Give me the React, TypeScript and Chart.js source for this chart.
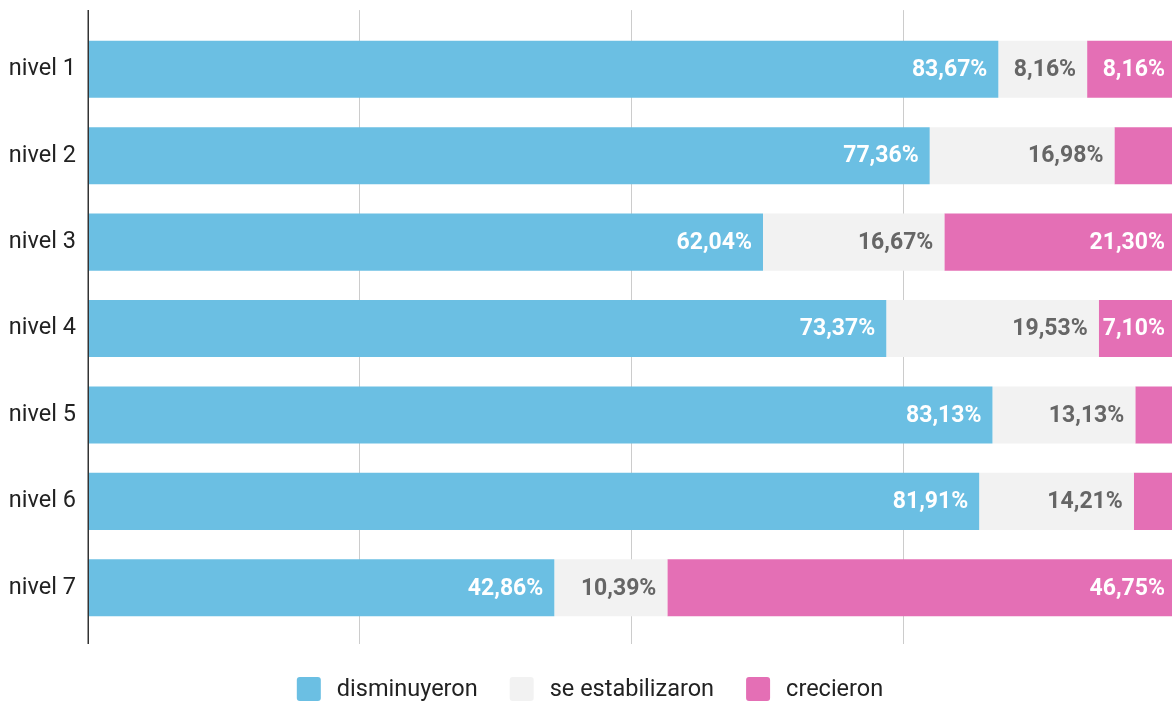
import React, { useEffect, useRef } from "react";
import { Chart, registerables } from "chart.js";

Chart.register(...registerables);

const categories = ["nivel 1", "nivel 2", "nivel 3", "nivel 4", "nivel 5", "nivel 6", "nivel 7"];
const seriesNames = ["disminuyeron", "se estabilizaron", "crecieron"];
const disminuyeron = [83.67, 77.36, 62.04, 73.37, 83.13, 81.91, 42.86];
const seEstabilizaron = [8.16, 16.98, 16.67, 19.53, 13.13, 14.21, 10.39];
const crecieron = [8.16, 5.66, 21.3, 7.1, 3.74, 3.88, 46.75];
const gridTicks = [25, 50, 75];

const COLORS = ["#6BBFE3", "#F2F2F2", "#E46FB5"];
const LABEL_COLORS = ["#FFFFFF", "#666666", "#FFFFFF"];
const FONT = "Roboto";

const fmt = (v: number) => v.toFixed(2).replace(".", ",") + "%";

const decorPlugin = {
  id: "decor",
  beforeDatasetsDraw(chart: any) {
    const { ctx, chartArea, scales } = chart;
    const top = chartArea.top - 16;
    const bottom = chartArea.bottom + 13;
    ctx.save();
    ctx.strokeStyle = "#CCCCCC";
    ctx.lineWidth = 1;
    gridTicks.forEach((t) => {
      const x = Math.round(scales.x.getPixelForValue(t)) - 0.5;
      ctx.beginPath();
      ctx.moveTo(x, top);
      ctx.lineTo(x, bottom);
      ctx.stroke();
    });
    ctx.restore();
  },
  afterDatasetsDraw(chart: any) {
    const { ctx, chartArea } = chart;
    ctx.save();
    // axis line
    ctx.strokeStyle = "#333333";
    ctx.lineWidth = 1.5;
    ctx.beginPath();
    ctx.moveTo(chartArea.left + 0.25, chartArea.top - 16);
    ctx.lineTo(chartArea.left + 0.25, chartArea.bottom + 13);
    ctx.stroke();

    // data labels
    ctx.font = `bold 23px ${FONT}`;
    ctx.textAlign = "right";
    ctx.textBaseline = "middle";
    chart.data.datasets.forEach((ds: any, di: number) => {
      const meta = chart.getDatasetMeta(di);
      meta.data.forEach((bar: any, i: number) => {
        const v = ds.data[i];
        const text = fmt(v);
        const w = Math.abs(bar.x - bar.base);
        const tw = ctx.measureText(text).width;
        if (tw + 6 > w) return;
        ctx.fillStyle = LABEL_COLORS[di];
        ctx.fillText(text, Math.min(bar.x, chartArea.right) - 11, bar.y + 1);
      });
    });

    // legend
    ctx.font = `23.5px ${FONT}`;
    ctx.textAlign = "left";
    ctx.textBaseline = "middle";
    const box = 24;
    const gapBox = 16;
    const gapItem = 32;
    const widths = seriesNames.map((n) => box + gapBox + ctx.measureText(n).width);
    const total = widths.reduce((a, b) => a + b, 0) + gapItem * (seriesNames.length - 1);
    let x = 1172 / 2 - total / 2 + 4;
    const cy = 689;
    seriesNames.forEach((n, i) => {
      ctx.fillStyle = COLORS[i];
      ctx.beginPath();
      (ctx as any).roundRect(x, cy - box / 2, box, box, 3);
      ctx.fill();
      ctx.fillStyle = "#222222";
      ctx.fillText(n, x + box + gapBox, cy + 1);
      x += widths[i] + gapItem;
    });
    ctx.restore();
  },
};

export default function App() {
  const ref = useRef<HTMLCanvasElement>(null);
  useEffect(() => {
    if (!ref.current) return;
    const chart = new Chart(ref.current, {
      type: "bar",
      data: {
        labels: categories,
        datasets: [disminuyeron, seEstabilizaron, crecieron].map((d, i) => ({
          label: seriesNames[i],
          data: d,
          backgroundColor: COLORS[i],
          borderWidth: 0,
          categoryPercentage: 1,
          barPercentage: 0.66,
        })),
      },
      options: {
        indexAxis: "y",
        responsive: false,
        animation: false,
        devicePixelRatio: 1,
        layout: { padding: { top: 26, bottom: 72, left: 0, right: 0 } },
        plugins: {
          legend: { display: false },
          tooltip: { enabled: false },
        },
        scales: {
          x: {
            stacked: true,
            min: 0,
            max: 100,
            display: false,
          },
          y: {
            stacked: true,
            grid: { display: false, drawTicks: false },
            border: { display: false },
            ticks: {
              color: "#222222",
              padding: 12,
              font: { family: FONT, size: 23.5 },
            },
            afterFit(scale: any) {
              scale.width = 88;
            },
          },
        },
      },
      plugins: [decorPlugin],
    });
    return () => chart.destroy();
  }, []);
  return (
    <div style={{ position: "fixed", left: 0, top: 0, width: 1172, height: 703, overflow: "hidden", background: "#fff" }}>
      <canvas ref={ref} width={1176} height={703} style={{ display: "block" }} />
    </div>
  );
}
